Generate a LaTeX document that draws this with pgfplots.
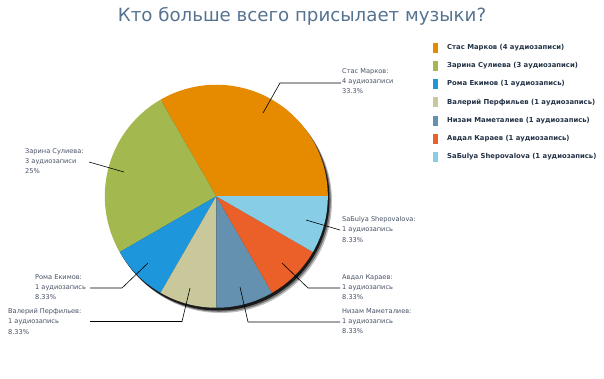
\documentclass[border=0pt]{standalone}
\usepackage{fontspec}
\setmainfont{DejaVu Sans}
\usepackage{pgfplots}
\pgfplotsset{compat=1.18}
\usepgfplotslibrary{polar}
\definecolor{cStas}{RGB}{230,138,0}
\definecolor{cZar}{RGB}{163,185,80}
\definecolor{cRom}{RGB}{30,150,220}
\definecolor{cVal}{RGB}{200,200,155}
\definecolor{cNiz}{RGB}{100,145,175}
\definecolor{cAvd}{RGB}{235,95,40}
\definecolor{cSab}{RGB}{135,205,230}
\definecolor{cTitle}{RGB}{85,115,145}
\definecolor{cLab}{RGB}{70,80,100}
\definecolor{cLeg}{RGB}{35,50,70}
\begin{document}
\begin{tikzpicture}[x=1pt,y=1pt]
\path (0,0) rectangle (604,-378);
% shadow
\fill[black!25] (220.5,-201.5) circle (111.5);
\fill[black!55] (219.3,-200.3) circle (111.5);
\fill[black!90] (218,-199) circle (111.5);
% counts: Stas 4, Zarina 3, Roma 1, Valery 1, Nizam 1, Avdal 1, Sabulya 1 (total 12)
\begin{polaraxis}[hide axis, clip=false, xmin=0, xmax=360, ymin=0, ymax=1,
  width=223pt, height=223pt, scale only axis, at={(194,-176)}, anchor=center]
\addplot[draw=none, fill=cStas, domain=0:120, samples=61] {1} -- (axis cs:0,0) -- cycle;
\addplot[draw=none, fill=cZar, domain=120:210, samples=46] {1} -- (axis cs:0,0) -- cycle;
\addplot[draw=none, fill=cRom, domain=210:240, samples=16] {1} -- (axis cs:0,0) -- cycle;
\addplot[draw=none, fill=cVal, domain=240:270, samples=16] {1} -- (axis cs:0,0) -- cycle;
\addplot[draw=none, fill=cNiz, domain=270:300, samples=16] {1} -- (axis cs:0,0) -- cycle;
\addplot[draw=none, fill=cAvd, domain=300:330, samples=16] {1} -- (axis cs:0,0) -- cycle;
\addplot[draw=none, fill=cSab, domain=330:360, samples=16] {1} -- (axis cs:0,0) -- cycle;
\end{polaraxis}
% title
\node[font=\fontsize{18.2}{20}\selectfont, text=cTitle, anchor=base] at (302,-21) {Кто больше всего присылает музыки?};
% legend
\begin{scope}[font=\bfseries\fontsize{6.85}{8}\selectfont, text=cLeg]
\foreach \c/\t [count=\i from 0] in {cStas/Стас Марков (4 аудиозаписи),cZar/Зарина Сулиева (3 аудиозаписи),cRom/Рома Екимов (1 аудиозапись),cVal/Валерий Перфильев (1 аудиозапись),cNiz/Низам Маметалиев (1 аудиозапись),cAvd/Авдал Караев (1 аудиозапись),cSab/SaБulya Shepovalova (1 аудиозапись)}{
  \fill[\c] (433,{-47.7-18.2*\i-5}) rectangle (438,{-47.7-18.2*\i+5});
  \node[anchor=west, inner sep=0pt] at (447,{-47.7-18.2*\i}) {\t};
}
\end{scope}
% leader lines
\draw[black, line width=0.6pt] (263,-113) -- (280,-83) -- (341,-83);
\draw[black, line width=0.6pt] (124,-172) -- (89,-162);
\draw[black, line width=0.6pt] (148,-263) -- (122,-288) -- (90,-288);
\draw[black, line width=0.6pt] (190,-288) -- (182,-321.5) -- (90,-321.5);
\draw[black, line width=0.6pt] (306,-220) -- (340,-230);
\draw[black, line width=0.6pt] (282,-263) -- (308,-288) -- (340,-288);
\draw[black, line width=0.6pt] (240,-287) -- (248,-322) -- (340,-322);
% labels
\begin{scope}[font=\fontsize{6.6}{10.4}\selectfont, text=cLab]
\node[anchor=north west, inner sep=0pt, align=left] at (342,-68) {Стас Марков:\\4 аудиозаписи\\33.3\%};
\node[anchor=north west, inner sep=0pt, align=left] at (25,-148) {Зарина Сулиева:\\3 аудиозаписи\\25\%};
\node[anchor=north west, inner sep=0pt, align=left] at (35,-274) {Рома Екимов:\\1 аудиозапись\\8.33\%};
\node[anchor=north west, inner sep=0pt, align=left] at (8,-308) {Валерий Перфильев:\\1 аудиозапись\\8.33\%};
\node[anchor=north west, inner sep=0pt, align=left] at (342,-216) {SaБulya Shepovalova:\\1 аудиозапись\\8.33\%};
\node[anchor=north west, inner sep=0pt, align=left] at (342,-274) {Авдал Караев:\\1 аудиозапись\\8.33\%};
\node[anchor=north west, inner sep=0pt, align=left] at (342,-308) {Низам Маметалиев:\\1 аудиозапись\\8.33\%};
\end{scope}
\end{tikzpicture}
\end{document}
